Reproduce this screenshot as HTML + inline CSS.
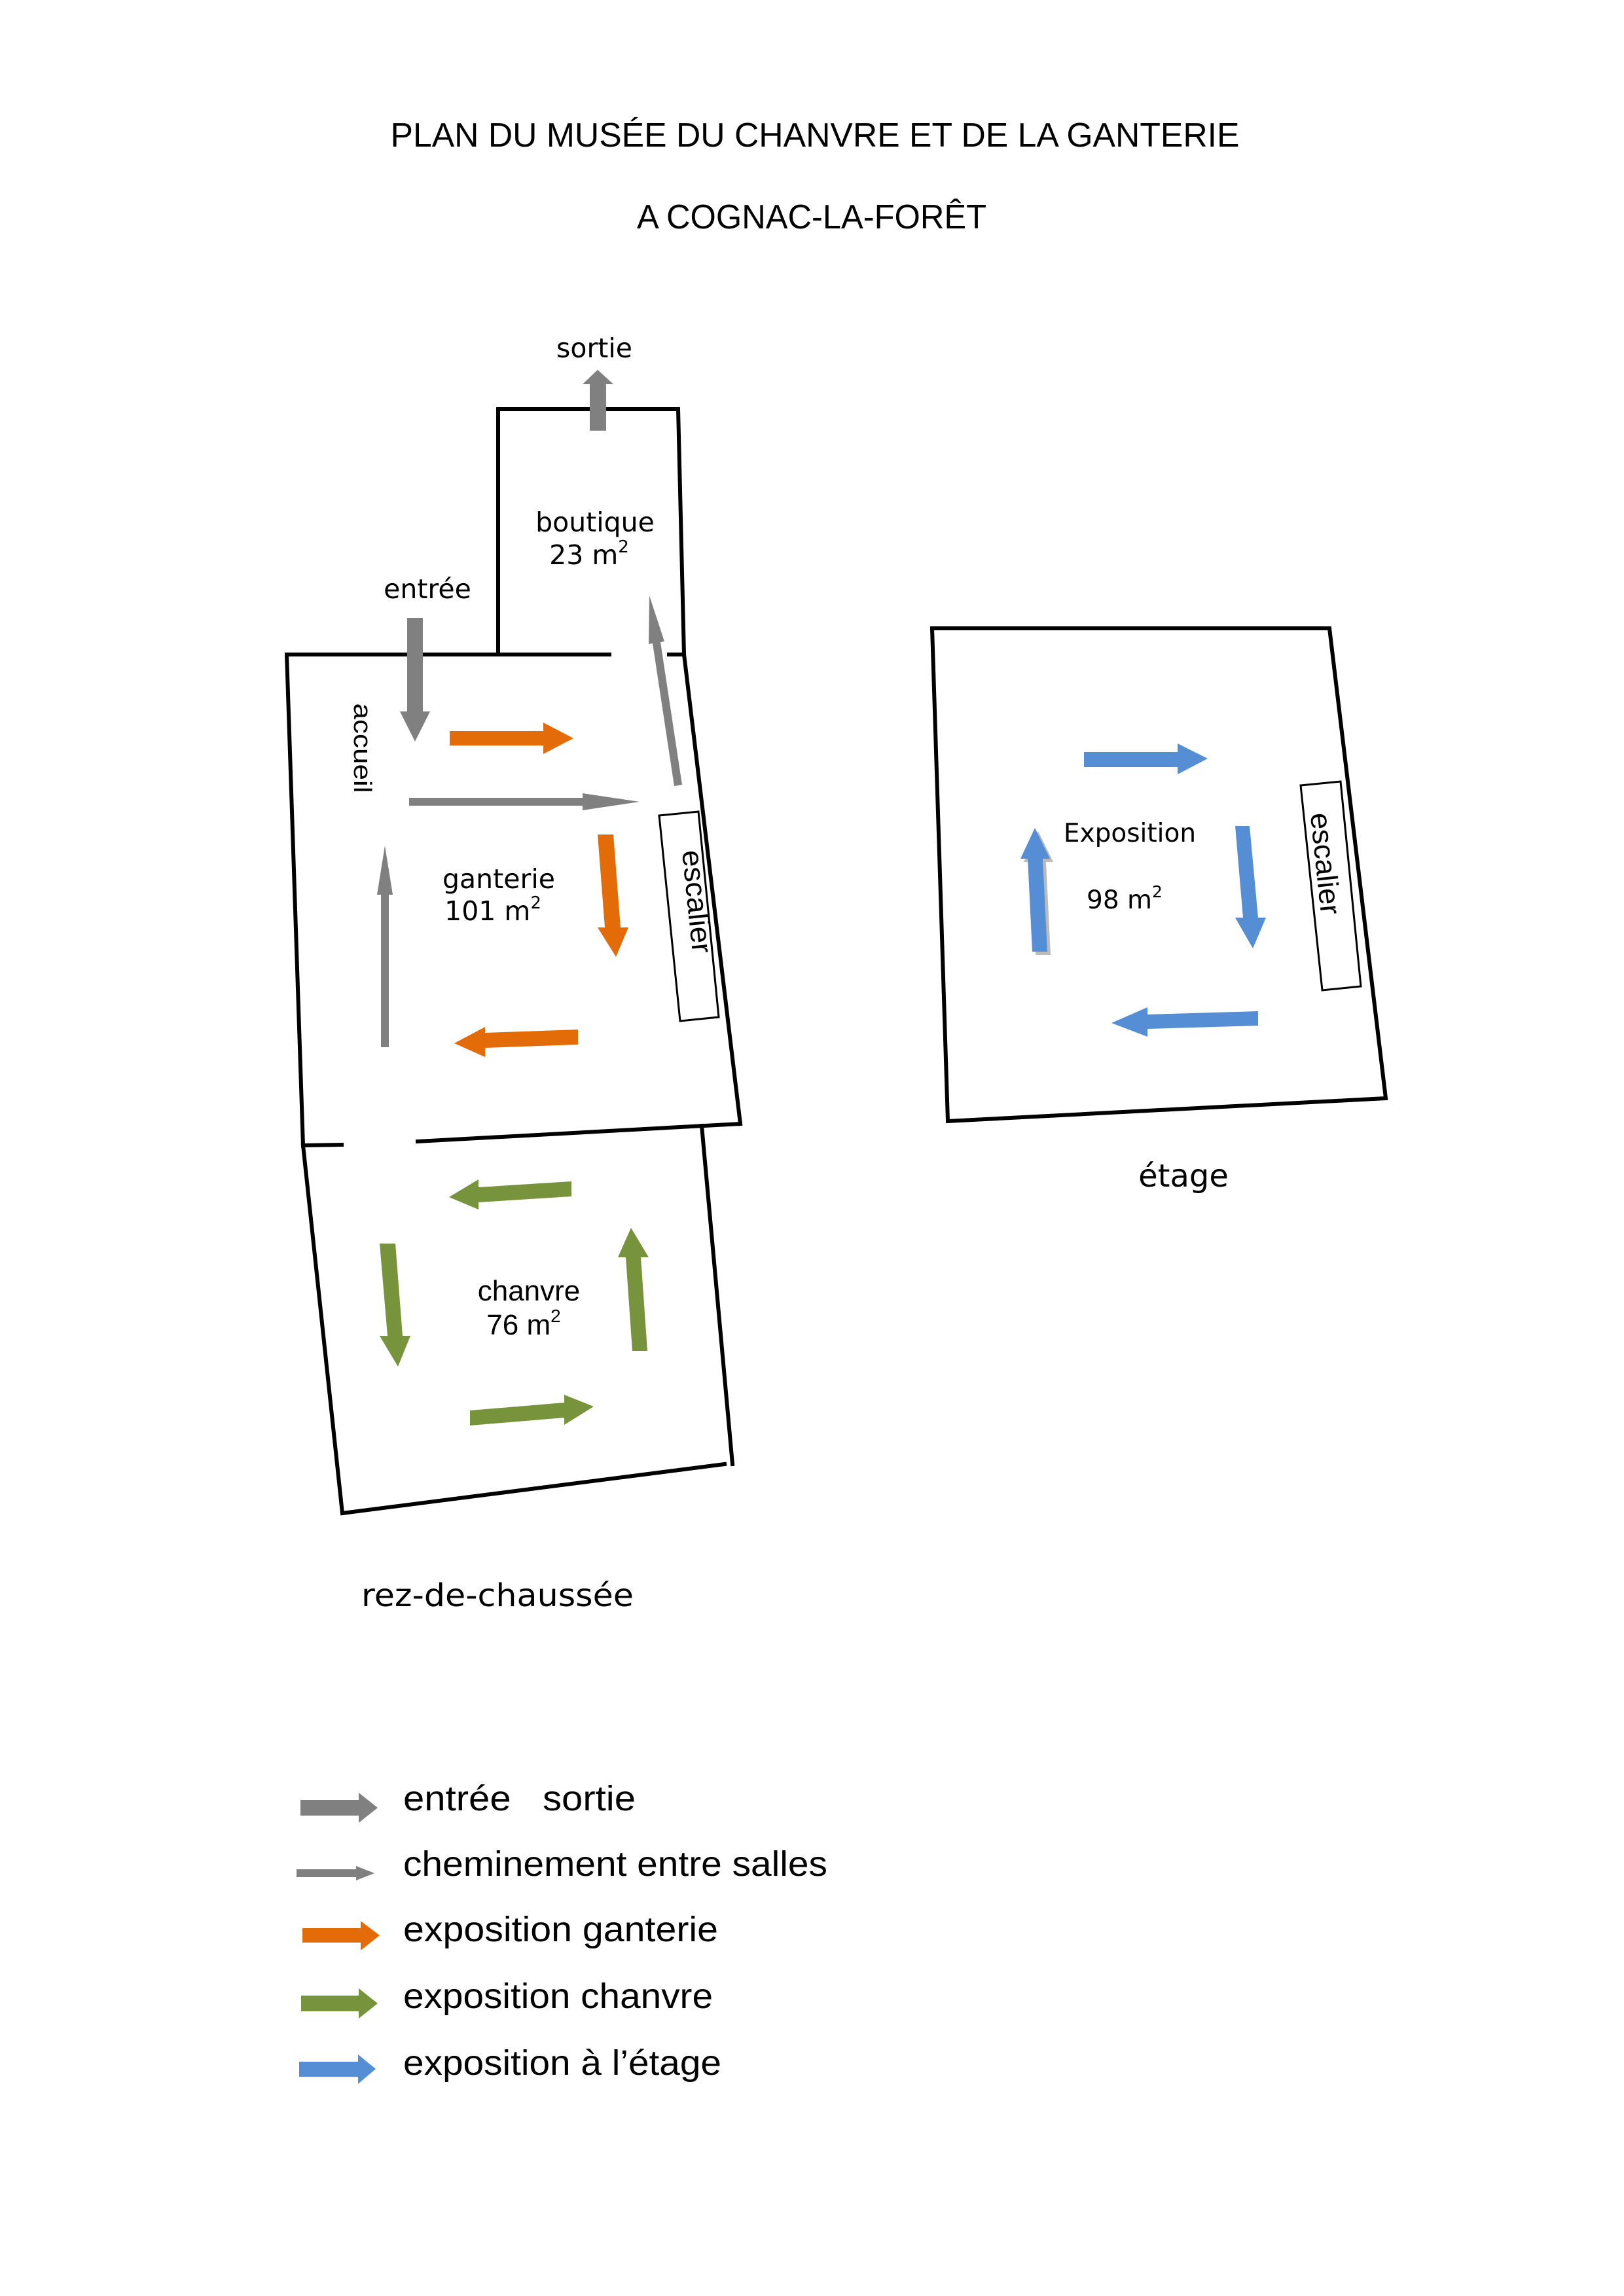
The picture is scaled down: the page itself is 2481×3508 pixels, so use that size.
<!DOCTYPE html>
<html><head><meta charset="utf-8"><style>html,body{margin:0;padding:0;background:#fff}svg{display:block}</style></head>
<body>
<svg width="2481" height="3508" viewBox="0 0 2481 3508" xmlns="http://www.w3.org/2000/svg">
<rect width="2481" height="3508" fill="#fff"/>
<g font-family="Liberation Sans, sans-serif" fill="#000">
<text x="1245" y="224" font-size="52" text-anchor="middle" textLength="1297" lengthAdjust="spacingAndGlyphs">PLAN DU MUSÉE DU CHANVRE ET DE LA GANTERIE</text>
<text x="1240" y="349" font-size="52" text-anchor="middle" textLength="534" lengthAdjust="spacingAndGlyphs">A COGNAC-LA-FORÊT</text>
</g>
<!-- walls -->
<g stroke="#000" stroke-width="6" fill="none" stroke-linecap="square">
<polyline points="761,1000 761,625 1036,625 1045,1000"/>
<line x1="438" y1="1000" x2="931" y2="1000"/>
<line x1="1022" y1="1000" x2="1045" y2="1000"/>
<line x1="1045" y1="1000" x2="1131" y2="1717"/>
<line x1="438" y1="1000" x2="463" y2="1750"/>
<line x1="463" y1="1750" x2="522" y2="1749"/>
<line x1="638" y1="1744" x2="1131" y2="1717"/>
<line x1="463" y1="1750" x2="523" y2="2312"/>
<line x1="523" y1="2312" x2="1107" y2="2237"/>
<line x1="1072" y1="1720" x2="1119" y2="2237"/>
<polygon points="1424,960 2031,960 2117,1678 1448,1713"/>
</g>
<g stroke="#000" stroke-width="3" fill="#fff">
<polygon points="1007,1246 1067,1240 1098,1554 1039,1560"/>
<polygon points="1987,1200 2048,1194 2079,1507 2020,1513"/>
</g>
<!-- gray arrows -->
<g fill="#808080">
<polygon points="622,944 646,944 646,1087 657,1087 634,1133 611,1087 622,1087"/>
<polygon points="901,658 926,658 926,587 937,587 913,565 890,587 901,587"/>
<polygon points="625,1219 890,1219 890,1212 977,1225 890,1238 890,1231 625,1231"/>
<polygon points="1030,1201 1042,1199 1009,981 1015,980 992,910 991,984 997,983"/>
<polygon points="582,1600 594,1600 594,1367 600,1367 588,1292 576,1367 582,1367"/>
</g>
<g fill="#E36C09">
<polygon points="687,1117 830,1117 830,1104 876,1128 830,1152 830,1139 687,1139"/>
<polygon points="913,1275 937,1275 948,1417 960,1417 941,1462 913,1417 924,1417"/>
<polygon points="883,1573 883,1596 741,1601 741,1615 694,1594 741,1569 741,1578"/>
</g>
<g fill="#77933C">
<polygon points="873,1805 873,1828 731,1837 731,1848 686,1829 731,1802 731,1814"/>
<polygon points="580,1900 604,1900 615,2041 627,2041 608,2088 580,2041 592,2041"/>
<polygon points="966,2064 989,2064 979,1921 991,1921 964,1876 944,1921 956,1921"/>
<polygon points="718,2155 718,2178 862,2166 862,2177 907,2149 862,2131 862,2143"/>
</g>
<polygon fill="#bbbbbb" points="1582,1459 1605,1459 1598,1317 1609,1317 1586,1270 1564,1317 1575,1317"/>
<g fill="#558ED5">
<polygon points="1656,1149 1799,1149 1799,1136 1845,1159 1799,1183 1799,1172 1656,1172"/>
<polygon points="1887,1262 1909,1262 1922,1402 1934,1402 1914,1449 1887,1402 1899,1402"/>
<polygon points="1922,1545 1922,1567 1753,1572 1753,1584 1698,1563 1753,1539 1753,1550"/>
<polygon points="1577,1454 1600,1454 1593,1312 1604,1312 1581,1265 1559,1312 1570,1312"/>
</g>
<!-- room labels -->
<g font-family="DejaVu Sans, sans-serif" fill="#000" text-anchor="middle">
<text x="908" y="546" font-size="41">sortie</text>
<text x="909" y="812" font-size="41">boutique</text>
<text x="900" y="862" font-size="41">23 m<tspan font-size="26" dy="-18">2</tspan></text>
<text x="653" y="914" font-size="41">entrée</text>
<text x="762" y="1357" font-size="41">ganterie</text>
<text x="753" y="1406" font-size="41">101 m<tspan font-size="26" dy="-18">2</tspan></text>
<text x="1726" y="1286" font-size="39">Exposition</text>
<text x="1718" y="1388" font-size="39">98 m<tspan font-size="25" dy="-17">2</tspan></text>
<text x="1808" y="1813" font-size="48">étage</text>
<text x="760" y="2454" font-size="48" textLength="416" lengthAdjust="spacingAndGlyphs">rez-de-chaussée</text>
</g>
<g font-family="Liberation Sans, sans-serif" fill="#000" text-anchor="middle">
<text x="808" y="1987" font-size="44">chanvre</text>
<text x="800" y="2039" font-size="44">76 m<tspan font-size="28" dy="-19">2</tspan></text>
<text transform="translate(541,1143) rotate(90)" font-size="38" textLength="137" lengthAdjust="spacingAndGlyphs">accueil</text>
<text transform="translate(1050,1379) rotate(84.2)" font-size="44" textLength="158" lengthAdjust="spacingAndGlyphs">escalier</text>
<text transform="translate(2010,1321) rotate(84)" font-size="44" textLength="156" lengthAdjust="spacingAndGlyphs">escalier</text>
</g>
<!-- legend -->
<polygon fill="#808080" points="459,2750 548,2750 548,2739 577,2762 548,2785 548,2774 459,2774"/>
<polygon fill="#808080" points="453,2856 544,2856 544,2851 572,2862 544,2873 544,2868 453,2868"/>
<polygon fill="#E36C09" points="462,2946 551,2946 551,2935 580,2957 551,2980 551,2968 462,2968"/>
<polygon fill="#77933C" points="460,3049 548,3049 548,3038 577,3061 548,3084 548,3073 460,3073"/>
<polygon fill="#558ED5" points="457,3150 547,3150 547,3139 574,3161 547,3184 547,3173 457,3173"/>
<g font-family="Liberation Sans, sans-serif" fill="#000" font-size="54">
<text x="616" y="2766" textLength="355" lengthAdjust="spacingAndGlyphs" xml:space="preserve">entrée   sortie</text>
<text x="616" y="2866" textLength="648" lengthAdjust="spacingAndGlyphs">cheminement entre salles</text>
<text x="616" y="2966" textLength="481" lengthAdjust="spacingAndGlyphs">exposition ganterie</text>
<text x="616" y="3068" textLength="473" lengthAdjust="spacingAndGlyphs">exposition chanvre</text>
<text x="616" y="3170" textLength="486" lengthAdjust="spacingAndGlyphs">exposition à l’étage</text>
</g>
</svg>
</body></html>
